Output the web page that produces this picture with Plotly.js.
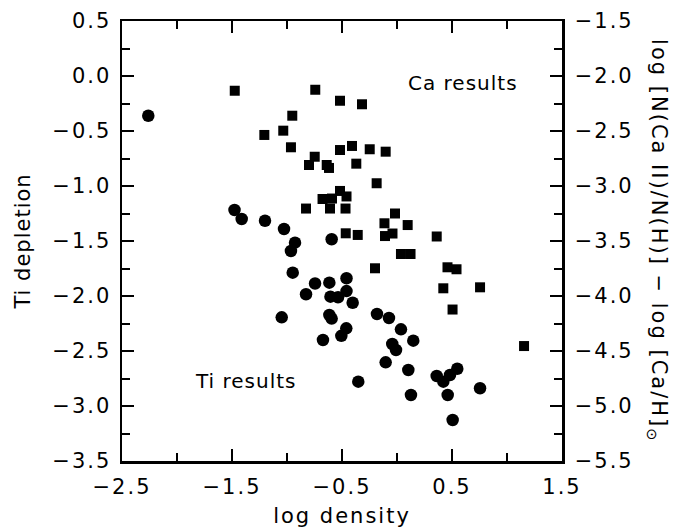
<!DOCTYPE html>
<html>
<head>
<meta charset="utf-8">
<script src="https://cdn.plot.ly/plotly-3.0.1.min.js"></script>
<style>
html,body{margin:0;padding:0;background:#fff;}
#chart{width:677px;height:530px;}
#chart .xtick text, #chart .ytick text, #chart .y2tick text { letter-spacing: 2px; }
#chart .g-xtitle text { letter-spacing: 2px; }
#chart .g-ytitle text { letter-spacing: 1px; }
#chart .annotation text { letter-spacing: 1px; }
#chart .annotation[data-index="2"] text { letter-spacing: 2px; }
</style>
</head>
<body>
<div id="chart"></div>
<script>
// Ca results (squares): log density vs Ti-depletion scale (left axis)
const caDensity = [-1.475,-0.743,-0.518,-0.318,-0.952,-1.034,-1.206,-0.964,-0.748,-0.800,
  -0.639,-0.618,-0.518,-0.409,-0.248,-0.103,-0.370,-0.185,-0.827,-0.677,
  -0.609,-0.591,-0.518,-0.459,-0.468,-0.466,-0.357,-0.018,-0.114,0.097,
  -0.109,-0.041,0.361,0.036,0.123,-0.200,0.459,0.541,0.421,0.755,
  0.505,1.155];
const caValue = [-0.134,-0.125,-0.225,-0.257,-0.361,-0.497,-0.536,-0.648,-0.734,-0.809,
  -0.809,-0.836,-0.673,-0.636,-0.666,-0.688,-0.797,-0.975,-1.205,-1.118,
  -1.205,-1.114,-1.045,-1.095,-1.205,-1.430,-1.445,-1.250,-1.339,-1.355,
  -1.455,-1.432,-1.459,-1.618,-1.618,-1.748,-1.739,-1.757,-1.930,-1.921,
  -2.123,-2.455];
// Ti results (circles)
const tiDensity = [-2.261,-1.477,-1.412,-1.200,-1.027,-0.927,-0.964,-0.594,-0.948,-0.745,
  -0.827,-0.615,-0.459,-0.605,-0.536,-0.459,-0.403,-1.048,-0.615,-0.594,
  -0.461,-0.506,-0.673,-0.352,-0.182,-0.073,0.036,0.148,-0.043,-0.009,
  -0.103,0.103,0.361,0.421,0.482,0.548,0.127,0.461,0.755,0.506];
const tiDepletion = [-0.361,-1.218,-1.300,-1.316,-1.391,-1.515,-1.591,-1.484,-1.788,-1.886,
  -1.984,-1.879,-1.839,-2.006,-2.011,-1.955,-2.061,-2.194,-2.173,-2.205,
  -2.294,-2.362,-2.400,-2.779,-2.164,-2.200,-2.303,-2.406,-2.436,-2.491,
  -2.603,-2.673,-2.727,-2.779,-2.718,-2.661,-2.900,-2.900,-2.839,-3.127];

const xTickVals = [-2.5,-1.5,-0.5,0.5,1.5];
const xTickText = ['\u22122.5','\u22121.5','\u22120.5','0.5','1.5'];
const yTickVals = [0.5,0,-0.5,-1,-1.5,-2,-2.5,-3,-3.5];
const yTickText = ['0.5','0.0','\u22120.5','\u22121.0','\u22121.5','\u22122.0','\u22122.5','\u22123.0','\u22123.5'];
const y2TickVals = [-1.5,-2,-2.5,-3,-3.5,-4,-4.5,-5,-5.5];
const y2TickText = ['\u22121.5','\u22122.0','\u22122.5','\u22123.0','\u22123.5','\u22124.0','\u22124.5','\u22125.0','\u22125.5'];

const font = {family:'DejaVu Sans, sans-serif', size:21, color:'#000'};
const annFont = {family:'DejaVu Sans, sans-serif', size:20, color:'#000'};

const traces = [
  {x: caDensity, y: caValue, mode:'markers', type:'scatter',
   marker:{symbol:'square', size:10, color:'#000'}, showlegend:false, hoverinfo:'skip'},
  {x: tiDensity, y: tiDepletion, mode:'markers', type:'scatter',
   marker:{symbol:'circle', size:12.5, color:'#000'}, showlegend:false, hoverinfo:'skip'},
  {x: [], y: [], yaxis:'y2', type:'scatter', mode:'markers', showlegend:false}
];

const layout = {
  width:677, height:530,
  margin:{l:122, r:115, t:21, b:69, pad:0},
  paper_bgcolor:'#fff', plot_bgcolor:'#fff',
  font: font,
  showlegend:false,
  xaxis:{
    range:[-2.5,1.5], tickmode:'array', tickvals:xTickVals, ticktext:xTickText,
    ticks:'inside', ticklen:12, tickwidth:2, tickcolor:'#000', tickfont:font,
    minor:{tickmode:'linear', tick0:-2.5, dtick:0.5, ticks:'inside', ticklen:8, tickwidth:2, tickcolor:'#000'},
    showline:true, linewidth:2.5, linecolor:'#000', mirror:'ticks',
    showgrid:false, zeroline:false, ticklabelstandoff:5,
    title:{text:'log density', font:font, standoff:11}
  },
  yaxis:{
    range:[-3.5,0.5], tickmode:'array', tickvals:yTickVals, ticktext:yTickText,
    ticks:'inside', ticklen:12, tickwidth:2, tickcolor:'#000', tickfont:font,
    minor:{tickmode:'linear', tick0:0, dtick:0.25, ticks:'inside', ticklen:8, tickwidth:2, tickcolor:'#000'},
    showline:true, linewidth:2.5, linecolor:'#000', mirror:true,
    showgrid:false, zeroline:false, ticklabelstandoff:4,
    title:{text:'Ti depletion', font:font, standoff:24}
  },
  yaxis2:{
    overlaying:'y', side:'right', anchor:'x',
    range:[-5.5,-1.5], tickmode:'array', tickvals:y2TickVals, ticktext:y2TickText,
    ticks:'inside', ticklen:12, tickwidth:2, tickcolor:'#000', tickfont:font,
    minor:{tickmode:'linear', tick0:-1.5, dtick:0.25, ticks:'inside', ticklen:8, tickwidth:2, tickcolor:'#000'},
    showline:true, linewidth:2.5, linecolor:'#000',
    showgrid:false, zeroline:false, ticklabelstandoff:6
  },
  annotations:[
    {x:0.6, y:-0.064, xref:'x', yref:'y', text:'Ca results', showarrow:false, font:annFont},
    {x:-1.37, y:-2.77, xref:'x', yref:'y', text:'Ti results', showarrow:false, font:annFont},
    {x:1.252, y:0.5, xref:'paper', yref:'paper', textangle:90,
     text:'log [N(Ca II)/N(H)] \u2212 log [Ca/H]<sub>\u2299</sub>', showarrow:false, font:font}
  ]
};

Plotly.newPlot('chart', traces, layout, {staticPlot:true, displayModeBar:false});
</script>
</body>
</html>
